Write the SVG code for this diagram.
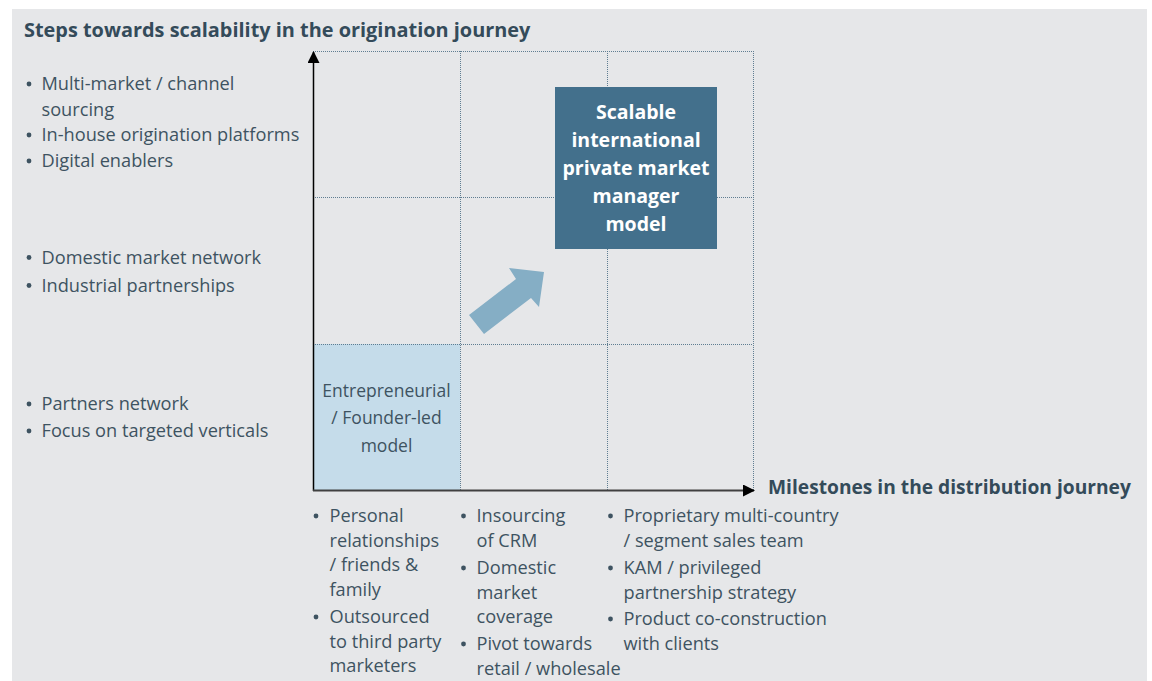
<svg xmlns="http://www.w3.org/2000/svg" width="1152" height="681" viewBox="0 0 1152 681">
  <style>
    .t { font-family: "Open Sans", Lato, "Liberation Sans", sans-serif; font-size: 18.2px; fill: #3e5361; }
    .box { font-size: 17.5px; }
    .h { font-family: "Open Sans", Lato, "Liberation Sans", sans-serif; font-size: 19.9px; font-weight: 700; fill: #344b5a; }
    .h2 { font-size: 19.2px; }
    .w { font-family: "Open Sans", Lato, "Liberation Sans", sans-serif; font-size: 19.5px; font-weight: 700; fill: #ffffff; text-anchor: middle; }
    .c { text-anchor: middle; }
    .grid { stroke: #5f7d91; stroke-width: 1; stroke-dasharray: 1 1; fill: none; }
    .dot { fill: #3e5361; }
  </style>
  <defs>
    <marker id="head" viewBox="0 0 12 12" refX="11" refY="6" markerWidth="12" markerHeight="12" markerUnits="userSpaceOnUse" orient="auto">
      <path d="M0,0 L12,6 L0,12 Z" fill="#000"/>
    </marker>
  </defs>

  <!-- panel background -->
  <rect x="12" y="9" width="1135" height="672" fill="#e6e7e9"/>

  <!-- headings -->
  <text class="h" x="24" y="37">Steps towards scalability in the origination journey</text>
  <text class="h h2" x="768" y="494">Milestones in the distribution journey</text>

  <!-- founder-led starting cell -->
  <g id="node-founder">
    <rect x="313" y="344" width="147" height="146" fill="#c5dcea"/>
    <text class="t box c" x="386.5" y="397">Entrepreneurial</text>
    <text class="t box c" x="386.5" y="424">/ Founder-led</text>
    <text class="t box c" x="386.5" y="451.5">model</text>
  </g>

  <!-- dotted 3x3 grid -->
  <g id="grid">
    <path class="grid" d="M313,51.5 H753 M313,197.5 H753 M313,344.5 H753 M460.5,51 V490 M607.5,51 V490 M753.5,51 V490"/>
  </g>

  <!-- axes -->
  <g id="axes">
    <line x1="313.5" y1="491" x2="313.5" y2="52" stroke="#000" stroke-width="1.5" marker-end="url(#head)"/>
    <line x1="313" y1="490.5" x2="754" y2="490.5" stroke="#404040" stroke-width="2" marker-end="url(#head)"/>
  </g>

  <!-- target model -->
  <g id="node-scalable">
    <rect x="555" y="87" width="162" height="162" fill="#43708c"/>
    <text class="w" x="636" y="118.5">Scalable</text>
    <text class="w" x="636" y="146.5">international</text>
    <text class="w" x="636" y="174.5">private market</text>
    <text class="w" x="636" y="202.5">manager</text>
    <text class="w" x="636" y="230.5">model</text>
  </g>

  <!-- progression arrow -->
  <g id="connectors">
    <polygon points="469,315 516,279 509,268 544,272 539,307 531,298 484,334" fill="#85aec5"/>
  </g>

  <!-- origination steps (vertical axis) -->
  <g id="node-origination">
    <circle class="dot" cx="29" cy="84" r="2.4"/>
    <text class="t" x="41.5" y="90">Multi-market / channel</text>
    <text class="t" x="41.5" y="115.5">sourcing</text>
    <circle class="dot" cx="29" cy="135" r="2.4"/>
    <text class="t" x="41.5" y="141">In-house origination platforms</text>
    <circle class="dot" cx="29" cy="161" r="2.4"/>
    <text class="t" x="41.5" y="167">Digital enablers</text>

    <circle class="dot" cx="29" cy="257.5" r="2.4"/>
    <text class="t" x="41.5" y="263.5">Domestic market network</text>
    <circle class="dot" cx="29" cy="285.5" r="2.4"/>
    <text class="t" x="41.5" y="291.5">Industrial partnerships</text>

    <circle class="dot" cx="29" cy="404" r="2.4"/>
    <text class="t" x="41.5" y="410">Partners network</text>
    <circle class="dot" cx="29" cy="431" r="2.4"/>
    <text class="t" x="41.5" y="437">Focus on targeted verticals</text>
  </g>

  <!-- distribution milestones (horizontal axis) -->
  <g id="node-distribution-1">
    <circle class="dot" cx="316" cy="516" r="2.4"/>
    <text class="t" x="329.5" y="522">Personal</text>
    <text class="t" x="329.5" y="546.5">relationships</text>
    <text class="t" x="329.5" y="571">/ friends &amp;</text>
    <text class="t" x="329.5" y="595.5">family</text>
    <circle class="dot" cx="316" cy="617" r="2.4"/>
    <text class="t" x="329.5" y="623">Outsourced</text>
    <text class="t" x="329.5" y="647.5">to third party</text>
    <text class="t" x="329.5" y="672">marketers</text>
  </g>
  <g id="node-distribution-2">
    <circle class="dot" cx="463.5" cy="516" r="2.4"/>
    <text class="t" x="476.5" y="522">Insourcing</text>
    <text class="t" x="476.5" y="546.5">of CRM</text>
    <circle class="dot" cx="463.5" cy="568" r="2.4"/>
    <text class="t" x="476.5" y="574">Domestic</text>
    <text class="t" x="476.5" y="598.5">market</text>
    <text class="t" x="476.5" y="623">coverage</text>
    <circle class="dot" cx="463.5" cy="644" r="2.4"/>
    <text class="t" x="476.5" y="650">Pivot towards</text>
    <text class="t" x="476.5" y="674.5">retail / wholesale</text>
  </g>
  <g id="node-distribution-3">
    <circle class="dot" cx="610.5" cy="516" r="2.4"/>
    <text class="t" x="623.5" y="522">Proprietary multi-country</text>
    <text class="t" x="623.5" y="546.5">/ segment sales team</text>
    <circle class="dot" cx="610.5" cy="568" r="2.4"/>
    <text class="t" x="623.5" y="574">KAM / privileged</text>
    <text class="t" x="623.5" y="598.5">partnership strategy</text>
    <circle class="dot" cx="610.5" cy="619" r="2.4"/>
    <text class="t" x="623.5" y="625">Product co-construction</text>
    <text class="t" x="623.5" y="649.5">with clients</text>
  </g>
</svg>
